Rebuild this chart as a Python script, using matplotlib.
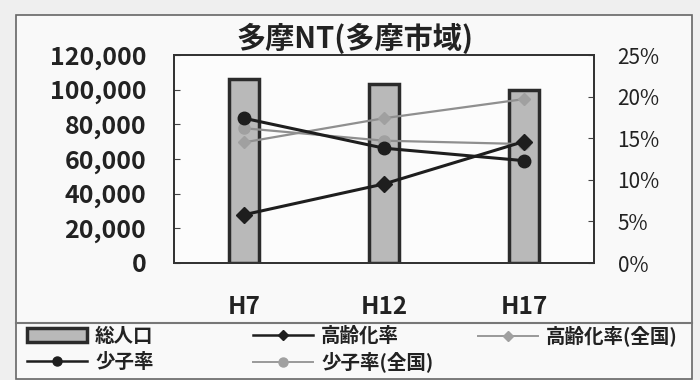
import matplotlib
matplotlib.use("Agg")
import matplotlib.pyplot as plt
from matplotlib.patches import Rectangle
from matplotlib.lines import Line2D
from matplotlib.ticker import FuncFormatter, FixedLocator

plt.rcParams['font.family'] = ['Noto Sans CJK JP', 'DejaVu Sans']

# ---- data ----
categories = ["H7", "H12", "H17"]
population = [106300, 103400, 99600]          # 総人口
aging_rate = [5.8, 9.5, 14.6]                 # 高齢化率 (%)
child_rate = [17.4, 13.8, 12.3]               # 少子率 (%)
aging_rate_nat = [14.5, 17.4, 19.7]           # 高齢化率(全国) (%)
child_rate_nat = [16.2, 14.7, 14.3]           # 少子率(全国) (%)
left_ticks = [0, 20000, 40000, 60000, 80000, 100000, 120000]
right_ticks = [0, 5, 10, 15, 20, 25]
title = "多摩NT(多摩市域)"
labels = ["総人口", "高齢化率", "高齢化率(全国)", "少子率", "少子率(全国)"]

W, H = 700, 380
fig = plt.figure(figsize=(7, 3.8), dpi=100, facecolor='#efefef')

def fx(px):
    return px / W

def fy(py):
    return 1 - py / H

# outer chart frame and legend separator
fig.add_artist(Rectangle((fx(16), fy(379)), fx(692) - fx(16), fy(15) - fy(379),
                         transform=fig.transFigure, facecolor='#f9f9f9',
                         edgecolor='#666666', lw=1.2, zorder=0))
fig.add_artist(Line2D([fx(16), fx(692)], [fy(322.5), fy(322.5)],
                      transform=fig.transFigure, color='#777777', lw=1.5))

ax = fig.add_axes([fx(174), fy(263), fx(594) - fx(174), fy(55) - fy(263)])
ax.set_facecolor('#fcfcfc')
x = list(range(len(categories)))

bars = ax.bar(x, population, width=0.21, color='#b9b9b9', edgecolor='#2b2b2b',
              linewidth=2.5, zorder=2)
ax.set_xlim(-0.5, 2.5)
ax.set_ylim(0, 120000)
ax.yaxis.set_major_locator(FixedLocator(left_ticks))
ax.yaxis.set_major_formatter(FuncFormatter(lambda v, p: f"{int(v):,}"))
ax.set_xticks(x)
ax.set_xticklabels(categories)
ax.tick_params(axis='x', length=0, pad=23, labelsize=17.5)
ax.tick_params(axis='y', direction='in', length=4, pad=20, labelsize=18,
               color='#444444')
for lab in ax.get_xticklabels() + ax.get_yticklabels():
    lab.set_fontweight('bold')
    lab.set_color('#222222')
for s in ax.spines.values():
    s.set_color('#333333')
    s.set_linewidth(1.3)

ax2 = ax.twinx()
ax2.set_ylim(0, 25)
ax2.yaxis.set_major_locator(FixedLocator(right_ticks))
ax2.yaxis.set_major_formatter(FuncFormatter(lambda v, p: f"{int(v)}%"))
ax2.tick_params(axis='y', direction='in', length=4, pad=17, labelsize=15,
                color='#444444', labelcolor='#222222')
for s in ax2.spines.values():
    s.set_color('#333333')
    s.set_linewidth(1.3)

l_nat_child, = ax2.plot(x, child_rate_nat, color='#8f8f8f', lw=1.6, marker='o',
                        ms=8, mfc='#a0a0a0', mec='#a0a0a0', zorder=3)
l_nat_aging, = ax2.plot(x, aging_rate_nat, color='#8f8f8f', lw=1.6, marker='D',
                        ms=6.5, mfc='#a0a0a0', mec='#a0a0a0', zorder=3)
l_child, = ax2.plot(x, child_rate, color='#1e1e1e', lw=2.2, marker='o',
                    ms=9, mfc='#1e1e1e', mec='#1e1e1e', zorder=4)
l_aging, = ax2.plot(x, aging_rate, color='#1e1e1e', lw=2.2, marker='D',
                    ms=8, mfc='#1e1e1e', mec='#1e1e1e', zorder=4)

fig.text(fx(355), fy(38), title, ha='center', va='center', fontsize=21,
         fontweight='bold', color='#222222')

# legend entries
leg_handles = [
    Rectangle((0, 0), 1, 1, facecolor='#b9b9b9', edgecolor='#2b2b2b', lw=2.5),
    Line2D([], [], color='#1e1e1e', lw=1.8, marker='D', ms=5.5, mfc='#1e1e1e', mec='#1e1e1e'),
    Line2D([], [], color='#999999', lw=1.4, marker='D', ms=5.5, mfc='#a0a0a0', mec='#a0a0a0'),
    Line2D([], [], color='#1e1e1e', lw=1.8, marker='o', ms=6.5, mfc='#1e1e1e', mec='#1e1e1e'),
    Line2D([], [], color='#999999', lw=1.4, marker='o', ms=6.5, mfc='#a0a0a0', mec='#a0a0a0'),
]
leg_pos = [(27, 336), (253, 336), (478, 336), (27, 362), (253, 362)]
for h, lab, (px, py) in zip(leg_handles, labels, leg_pos):
    lg = fig.legend(handles=[h], labels=[lab], loc='center left',
                    bbox_to_anchor=(fx(px), fy(py)), bbox_transform=fig.transFigure,
                    frameon=False, borderpad=0, borderaxespad=0,
                    handlelength=3.1, handletextpad=0.4,
                    prop={'size': 14, 'weight': 'bold'})
    for t in lg.get_texts():
        t.set_color('#222222')

fig.savefig("out.png", dpi=100, facecolor=fig.get_facecolor())
